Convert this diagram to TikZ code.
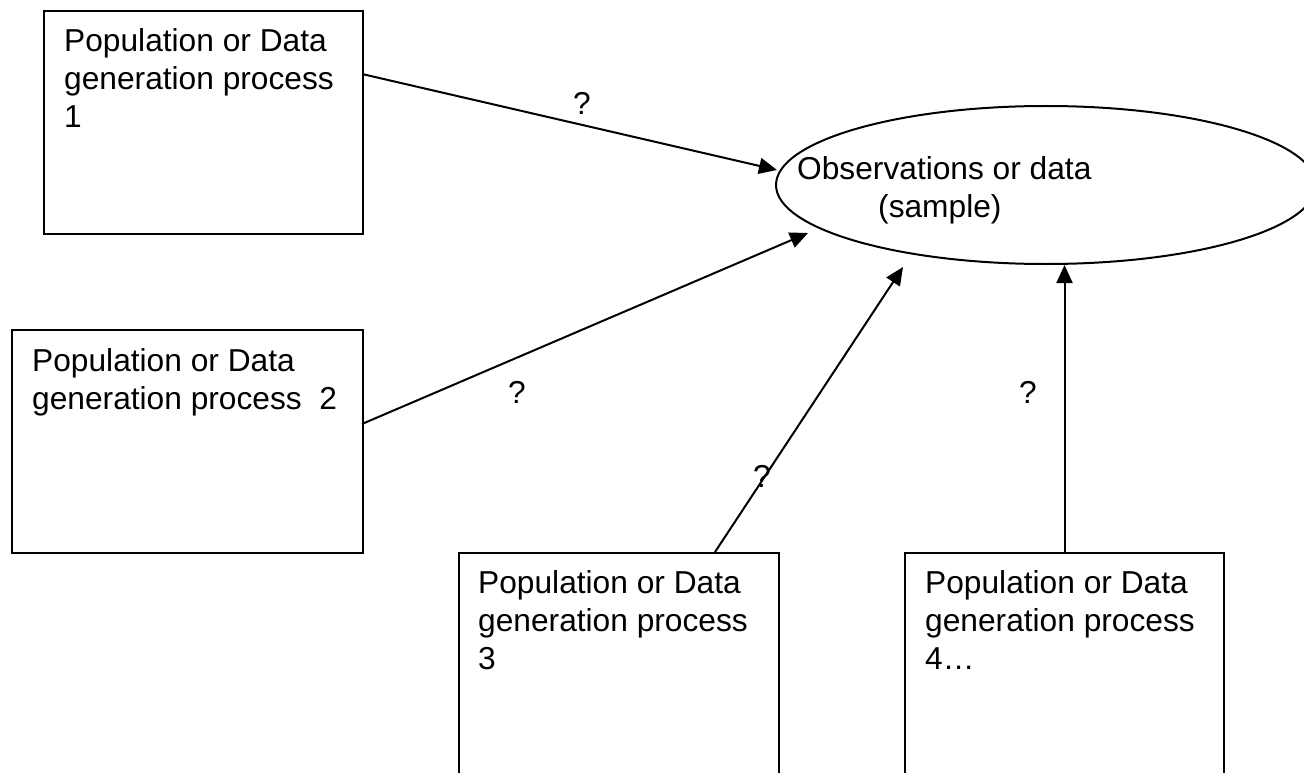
\documentclass[tikz,border=0pt]{standalone}
\usepackage{fontspec}
\setmainfont{Liberation Sans}
\usetikzlibrary{shapes.geometric,arrows.meta,calc}
\begin{document}
\begin{tikzpicture}[x=1pt,y=-1pt,
  box/.style={draw,line width=2pt,rectangle,inner sep=0pt,anchor=north west},
  oval/.style={draw,line width=2pt,ellipse,inner sep=0pt},
  txt/.style={font=\fontsize{31.7}{38}\selectfont,align=left,inner sep=0pt,anchor=base west},
  qm/.style={font=\fontsize{31.7}{38}\selectfont,inner sep=0pt,anchor=base},
  conn/.style={line width=2pt,-{Triangle[length=18pt,width=16pt]}}]
\useasboundingbox (0,0) rectangle (1304,773);
\clip (0,0) rectangle (1304,773);
\fill[white] (0,0) rectangle (1304,773);
% boxes
\node[box,minimum width=319pt,minimum height=223pt] (p1) at (43,10) {};
\node[box,minimum width=351pt,minimum height=223pt] (p2) at (11,329) {};
\node[box,minimum width=320pt,minimum height=260pt] (p3) at (458,552) {};
\node[box,minimum width=319pt,minimum height=260pt] (p4) at (904,552) {};
% ellipse
\node[oval,minimum width=540pt,minimum height=158pt] (obs) at (1046,185) {};
% texts (base = baseline of the last line)
\node[txt] (t1) at (64,128) {Population or Data\\generation process\\1};
\node[txt] (t2) at (32,409) {Population or Data\\generation process\ \ 2};
\node[txt] (t3) at (478,669) {Population or Data\\generation process\\3};
\node[txt] (t4) at (925,669) {Population or Data\\generation process\\4\ldots};
\node[txt] (tobs) at (797,217) {Observations or data\\\hspace*{81pt}(sample)};
% connector endpoints
\coordinate (s1) at (362,74);
\coordinate (e1) at (777,170);
\coordinate (s2) at (362,424);
\coordinate (e2) at (808,233);
\coordinate (s3) at (715,552);
\coordinate (e3) at (903,267);
% connectors
\draw[conn] (s1) -- (e1);
\draw[conn] (s2) -- (e2);
\draw[conn] (s3) -- (e3);
\draw[conn] (p4.north) -- (p4.north |- obs.south);
% labels
\node[qm] (q1) at (582,115) {?};
\node[qm] (q2) at (517,403) {?};
\node[qm] (q3) at (762,487) {?};
\node[qm] (q4) at (1028,403) {?};
\end{tikzpicture}
\end{document}
